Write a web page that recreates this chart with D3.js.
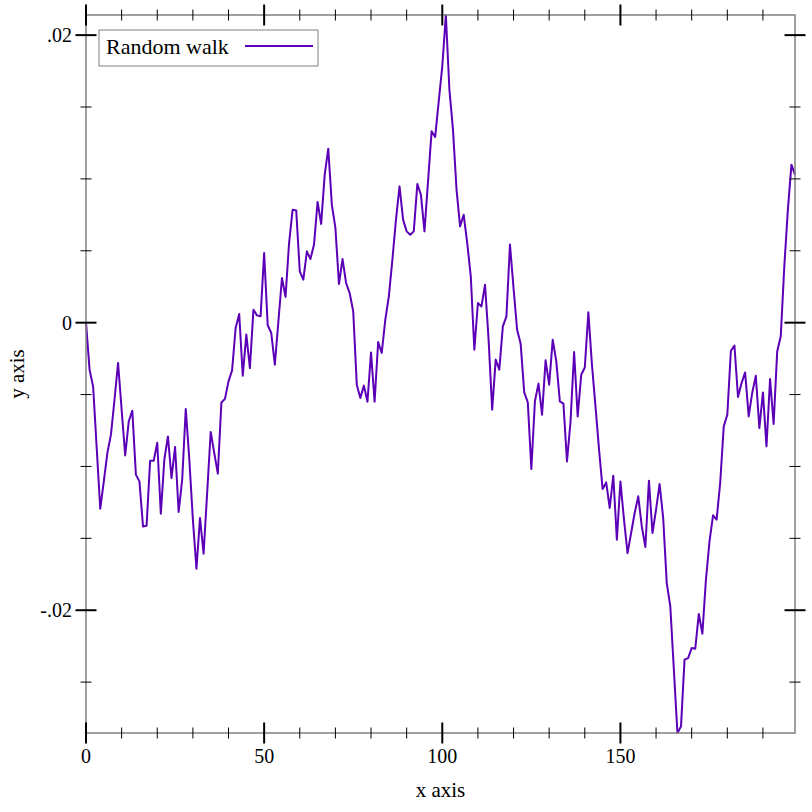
<!DOCTYPE html>
<html>
<head>
<meta charset="utf-8">
<script src="https://cdn.jsdelivr.net/npm/d3@7"></script>
<style>
  body { margin: 0; background: #fff; }
  svg text { font-family: "Liberation Serif", "DejaVu Serif", serif; fill: #000; }
</style>
</head>
<body>
<svg width="812" height="812"></svg>
<script>
// random walk, one value per step
const walk = [
  0, -0.00327, -0.00445, -0.0087, -0.01294, -0.01104, -0.00906, -0.00779, -0.00536, -0.0028,
  -0.00605, -0.00923, -0.00686, -0.00612, -0.01057, -0.01104, -0.01417, -0.01412, -0.0096, -0.0096,
  -0.00835, -0.01329, -0.0095, -0.00791, -0.01081, -0.00864, -0.01316, -0.01092, -0.006, -0.00953,
  -0.0137, -0.01711, -0.01358, -0.01607, -0.01185, -0.0076, -0.00907, -0.0105, -0.00555, -0.0053,
  -0.00408, -0.00332, -0.00037, 0.0006, -0.00369, -0.00083, -0.00316, 0.0009, 0.00051, 0.00044,
  0.00485, -0.00018, -0.00072, -0.00292, 0.00009, 0.00311, 0.00179, 0.00554, 0.00786, 0.00781,
  0.00357, 0.00299, 0.00496, 0.00443, 0.00543, 0.0084, 0.00687, 0.0103, 0.0121, 0.00821,
  0.00659, 0.00269, 0.00443, 0.00276, 0.00206, 0.00079, -0.00431, -0.00524, -0.00438, -0.0055,
  -0.00207, -0.0055, -0.00134, -0.00211, 0.0002, 0.00183, 0.00438, 0.00717, 0.00948, 0.00717,
  0.00635, 0.00612, 0.00635, 0.00965, 0.0089, 0.00635, 0.00983, 0.01331, 0.01292, 0.01539,
  0.01783, 0.0214, 0.0162, 0.01343, 0.00926, 0.0067, 0.00751, 0.00554, 0.00322, -0.00188,
  0.00137, 0.00113, 0.00264, -0.00118, -0.00605, -0.00257, -0.00327, -0.00026, 0.00044, 0.00543,
  0.0024, -0.00049, -0.00147, -0.00485, -0.00554, -0.01018, -0.00547, -0.00424, -0.0064, -0.00262,
  -0.00431, -0.00118, -0.00269, -0.00547, -0.00563, -0.00965, -0.00686, -0.00204, -0.00652, -0.00362,
  -0.00312, 0.00072, -0.0029, -0.00582, -0.00883, -0.01157, -0.01111, -0.01289, -0.01064, -0.0151,
  -0.01104, -0.0137, -0.01603, -0.01463, -0.01324, -0.01208, -0.01417, -0.0156, -0.01099, -0.01463,
  -0.01301, -0.01122, -0.01358, -0.01811, -0.01973, -0.02414, -0.02854, -0.02808, -0.02344, -0.02333,
  -0.02263, -0.02268, -0.02026, -0.02163, -0.01788, -0.01521, -0.0134, -0.0137, -0.01115, -0.00721,
  -0.0064, -0.00195, -0.0016, -0.00517, -0.0042, -0.00346, -0.00652, -0.00487, -0.00369, -0.00733,
  -0.00485, -0.0086, -0.00392, -0.00705, -0.002, -0.00095, 0.00392, 0.00786, 0.01099, 0.0103
]

const seriesName = "Random walk"
const xMajor = [0, 50, 100, 150]
const xMinor = [10, 20, 30, 40, 60, 70, 80, 90, 110, 120, 130, 140, 160, 170, 180, 190]
const yMajor = [-0.02, 0, 0.02]
const yLabels = ["-.02", "0", ".02"]
const yMinor = [-0.025, -0.015, -0.01, -0.005, 0.005, 0.01, 0.015]

const lineColor = "#5c00b8"
const frameColor = "#808080"

const svg = d3.select("svg")
const plotL = 86, plotR = 795, plotT = 15, plotB = 733

const x = d3.scaleLinear()
    .domain([0, walk.length - 1])
    .range([plotL, plotR])

const y = d3.scaleLinear()
    .domain(d3.extent(walk))
    .range([plotB, plotT])

// data line
const line = d3.line()
    .x((d, i) => x(i))
    .y(d => y(d))

svg.append("path")
    .datum(walk)
    .attr("d", line)
    .attr("fill", "none")
    .attr("stroke", lineColor)
    .attr("stroke-width", 2)
    .attr("stroke-linejoin", "round")

// frame
svg.append("rect")
    .attr("x", plotL)
    .attr("y", plotT)
    .attr("width", plotR - plotL)
    .attr("height", plotB - plotT)
    .attr("fill", "none")
    .attr("stroke", frameColor)
    .attr("stroke-width", 1.5)

// ticks cross the frame line, on all four sides
const tickG = svg.append("g").attr("stroke", "#000")

const drawX = (values, half, width) => {
    [plotT, plotB].forEach(yy => {
        tickG.selectAll(null)
            .data(values)
            .enter().append("line")
            .attr("x1", d => x(d)).attr("x2", d => x(d))
            .attr("y1", yy - half).attr("y2", yy + half)
            .attr("stroke-width", width)
    })
}
const drawY = (values, half, width) => {
    [plotL, plotR].forEach(xx => {
        tickG.selectAll(null)
            .data(values)
            .enter().append("line")
            .attr("y1", d => y(d)).attr("y2", d => y(d))
            .attr("x1", xx - half).attr("x2", xx + half)
            .attr("stroke-width", width)
    })
}
drawX(xMinor, 5.5, 1)
drawX(xMajor, 10.5, 2)
drawY(yMinor, 5.5, 1)
drawY(yMajor, 10.5, 2)

// tick labels
svg.selectAll(".xlab")
    .data(xMajor)
    .enter().append("text")
    .attr("class", "xlab")
    .attr("x", d => x(d))
    .attr("y", plotB + 30)
    .attr("text-anchor", "middle")
    .style("font-size", "20px")
    .text(d => d)

svg.selectAll(".ylab")
    .data(yMajor)
    .enter().append("text")
    .attr("class", "ylab")
    .attr("x", plotL - 14)
    .attr("y", d => y(d))
    .attr("dy", "0.35em")
    .attr("text-anchor", "end")
    .style("font-size", "20px")
    .text((d, i) => yLabels[i])

// axis titles
svg.append("text")
    .attr("x", (plotL + plotR) / 2)
    .attr("y", 797)
    .attr("text-anchor", "middle")
    .style("font-size", "21px")
    .text("x axis")

svg.append("text")
    .attr("transform", `translate(24, ${(plotT + plotB) / 2}) rotate(-90)`)
    .attr("text-anchor", "middle")
    .style("font-size", "21px")
    .text("y axis")

// legend
const legend = svg.append("g").attr("transform", "translate(99, 30)")
legend.append("rect")
    .attr("width", 219)
    .attr("height", 36)
    .attr("fill", "#fff")
    .attr("stroke", frameColor)
    .attr("stroke-width", 1)
legend.append("text")
    .attr("x", 7)
    .attr("y", 24)
    .style("font-size", "22px")
    .text(seriesName)
legend.append("line")
    .attr("x1", 146).attr("x2", 214)
    .attr("y1", 16).attr("y2", 16)
    .attr("stroke", lineColor)
    .attr("stroke-width", 2)
</script>
</body>
</html>
